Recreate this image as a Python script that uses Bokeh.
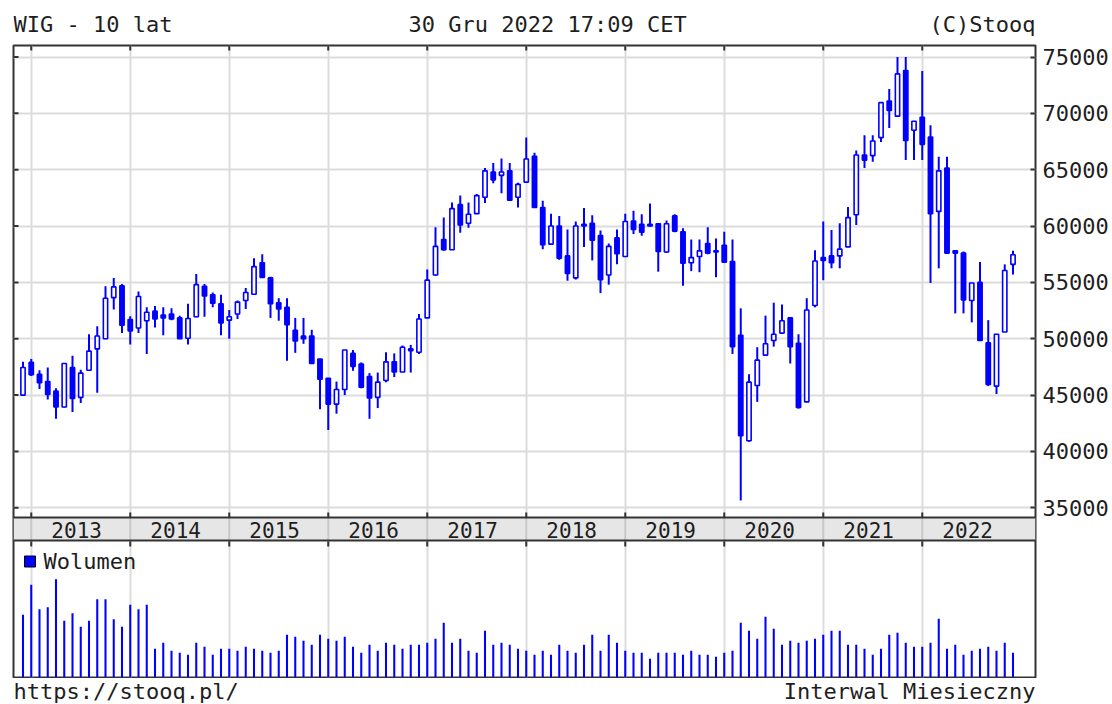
import math
from bokeh.plotting import figure
from bokeh.layouts import column
from bokeh.models import Range1d, LinearAxis, FixedTicker, Grid
from bokeh.core.properties import value
from bokeh.embed import file_html
from bokeh.resources import INLINE

# ---------------- data ----------------
months = ["2012-12"] + [f"{y}-{m:02d}" for y in range(2013, 2023) for m in range(1, 13)]
years = ["2013", "2014", "2015", "2016", "2017", "2018", "2019", "2020", "2021", "2022"]
price_ticks = [35000, 40000, 45000, 50000, 55000, 60000, 65000, 70000, 75000]

opens = [45000, 47900, 46850, 46200, 45350, 43950, 47450, 44800, 47200, 49100, 50000, 53650, 54700, 51700, 50950,
         51600, 52450, 52100, 52200, 51850, 50050, 51950, 54650, 53900, 53100, 51650, 52200, 53400, 53950, 56750,
         55400, 53200, 52800, 50750, 50250, 50250, 48200, 46500, 44200, 45500, 48700, 47750, 46650, 44800, 46300,
         47950, 47050, 49100, 48800, 51850, 55650, 58800, 57900, 61900, 60250, 61100, 62550, 64800, 64500, 64900,
         62550, 63900, 66200, 61650, 58400, 60000, 57350, 55400, 60000, 60250, 59150, 55650, 58950, 57300, 60450,
         60150, 60150, 60200, 57700, 60900, 59500, 56750, 57300, 58450, 57800, 58300, 56850, 50300, 40950, 45850,
         48550, 49850, 50500, 51850, 49600, 44400, 52950, 57200, 57350, 57350, 58150, 61000, 66300, 66250, 67850,
         71100, 69750, 73800, 68500, 69650, 67900, 61300, 65150, 57800, 57600, 53400, 55000, 49650, 45800, 50600,
         56600]
highs = [47950, 48200, 47200, 47450, 45600, 47800, 48500, 47250, 50400, 51100, 54650, 55400, 54850, 52000, 54200,
         52800, 52900, 52800, 52700, 52050, 53100, 55750, 54850, 54100, 53900, 52550, 53400, 54500, 57150, 57500,
         55500, 53600, 53600, 51850, 51850, 50800, 48200, 46500, 46200, 49000, 49000, 47900, 46950, 47000, 48800,
         48700, 49400, 49450, 52200, 56150, 59900, 60750, 62100, 62700, 62100, 62850, 65150, 65600, 66000, 65600,
         63850, 67850, 66500, 62250, 61100, 60900, 59700, 60400, 61600, 60950, 59600, 58450, 59700, 61100, 61350,
         61050, 62000, 60200, 60500, 61050, 59800, 58800, 58800, 59900, 58900, 59500, 58800, 52700, 46850, 49250,
         52050, 53200, 53050, 51850, 50400, 53600, 57850, 60400, 59650, 60250, 61700, 66700, 68050, 68050, 70950,
         72150, 75000, 75000, 69300, 73750, 68950, 66150, 66150, 57800, 57750, 54950, 56800, 51650, 50400, 56600,
         57800]
lows = [45000, 46700, 45550, 44600, 42900, 43900, 43500, 44300, 47200, 45200, 50000, 52600, 50500, 49500, 50500,
        48650, 51000, 50300, 51650, 50000, 49500, 51900, 51950, 52800, 50300, 50000, 51750, 52650, 53950, 55450,
        51850, 51600, 48050, 48750, 49550, 47800, 43750, 41900, 43350, 45000, 47150, 45600, 42900, 43850, 46150,
        46600, 47050, 47000, 48650, 51850, 55600, 57800, 57900, 59400, 59850, 61100, 62050, 63800, 62900, 62300,
        61650, 63850, 61650, 57950, 58400, 57000, 55150, 55250, 58150, 56950, 54050, 54800, 56600, 57300, 59300,
        59150, 59950, 55950, 57600, 59450, 54700, 56000, 55900, 57500, 55450, 56800, 48650, 35650, 40850, 44400,
        48550, 49300, 50500, 47800, 43800, 44400, 52800, 55200, 56250, 56250, 58150, 60100, 65150, 65700, 67450,
        68700, 69750, 65850, 65850, 65850, 54950, 56250, 57600, 52250, 52250, 51450, 49850, 45800, 45100, 50600,
        55700]
closes = [47450, 46800, 46100, 45050, 43950, 47800, 44700, 46950, 48900, 50250, 53600, 54600, 51200, 50700, 53750,
          52350, 51750, 51850, 51750, 50000, 51800, 54800, 53800, 53150, 51400, 51950, 53250, 54100, 56400, 55450,
          53100, 52650, 51250, 49800, 50000, 47800, 46400, 44200, 45500, 49000, 47550, 45700, 44750, 46150, 47950,
          47050, 49250, 48950, 51750, 55200, 58200, 57900, 61550, 60100, 61050, 62700, 64900, 64100, 64800, 62300,
          63700, 65950, 61650, 58350, 60000, 57150, 55800, 60000, 60150, 58750, 55250, 58200, 57550, 60400, 59700,
          59450, 60000, 57750, 60200, 59550, 56700, 57200, 57800, 57600, 57700, 56800, 49300, 41400, 46150, 48100,
          49550, 50400, 51600, 49300, 43900, 52550, 56900, 56950, 56750, 57950, 60750, 66300, 65850, 67550, 70950,
          70250, 73500, 67600, 69300, 67250, 61100, 64900, 57600, 57600, 53450, 54950, 49850, 45950, 50400, 56050,
          57450]
volumes = [188, 278, 205, 211, 295, 170, 193, 152, 170, 235, 235, 175, 152, 218, 205, 218, 86, 104, 80, 74,
           68, 104, 92, 68, 86, 86, 80, 92, 86, 80, 74, 80, 128, 122, 110, 98, 128, 116, 110, 122,
           92, 74, 98, 80, 104, 98, 86, 98, 98, 104, 116, 164, 104, 116, 80, 74, 140, 98, 104, 98,
           86, 80, 68, 80, 68, 98, 80, 74, 98, 128, 80, 128, 104, 80, 74, 74, 56, 74, 74, 74,
           68, 80, 68, 68, 62, 74, 80, 164, 140, 116, 182, 146, 98, 110, 104, 110, 116, 128, 140, 140,
           98, 98, 86, 68, 86, 128, 134, 104, 92, 92, 104, 176, 86, 98, 68, 80, 86, 92, 80, 104,
           74]

# ---------------- layout constants (reference pixels) ----------------
W, H = 1112, 704
HEAD_H = 40
FRAME_L, FRAME_R, FRAME_T, FRAME_B = 13, 1035, 45, 677
MAIN_B, BAND_B = 517, 541
X0, STEP = 22.5, 8.25
Y_HI_PX, Y_LO_PX = 56.5, 507.3
VOL_UNITS_PER_PX = 3.0

FONT = "DejaVu Sans Mono"
TXT = "#1e1e1e"
BLUE = "#0000ff"
DARK = "#333333"

main_h = FRAME_B - HEAD_H + 1
FOOT_H = H - HEAD_H - main_h


def blank_fig(h, y_top):
    # frames of stacked plots are aligned with the main frame, so map x in reference pixels
    f = figure(width=W, height=h, x_range=Range1d(FRAME_L, FRAME_R),
               y_range=Range1d(y_top + h, y_top),
               output_backend="svg", toolbar_location=None,
               x_axis_location=None, y_axis_location=None,
               min_border=0, min_border_left=0, min_border_right=0,
               min_border_top=0, min_border_bottom=0,
               outline_line_color=None, background_fill_color="white",
               border_fill_color="white")
    f.grid.visible = False
    return f


def texts(f, xs_, ys_, labels, align, size="22px"):
    f.text(x=xs_, y=ys_, text=labels, text_font=value(FONT), text_font_size=size,
           text_color=TXT, text_align=align, text_baseline="middle")


# ---------------- header ----------------
head = blank_fig(HEAD_H, 0)
texts(head, [13, 408], [24, 24], ["WIG - 10 lat", "30 Gru 2022 17:09 CET"], "left")
texts(head, [1035], [24], ["(C)Stooq"], "right")

# ---------------- main chart (candles + year band + volume) ----------------
top_pad = FRAME_T - HEAD_H
ppx = (price_ticks[-1] - price_ticks[0]) / (Y_LO_PX - Y_HI_PX)
x_range = Range1d((FRAME_L - X0) / STEP, (FRAME_R - X0) / STEP)
y_range = Range1d(price_ticks[0] - (FRAME_B - Y_LO_PX) * ppx,
                  price_ticks[-1] + (Y_HI_PX - FRAME_T) * ppx)

p = figure(width=W, height=main_h, x_range=x_range, y_range=y_range,
           output_backend="svg", toolbar_location=None,
           x_axis_location=None, y_axis_location=None,
           min_border_left=FRAME_L, min_border_top=top_pad,
           min_border_right=W - FRAME_R, min_border_bottom=main_h - top_pad - (FRAME_B - FRAME_T),
           background_fill_color="white", border_fill_color="white",
           outline_line_color=DARK, outline_line_width=2)
p.extra_x_ranges = {"px": Range1d(FRAME_L, FRAME_R)}
p.extra_y_ranges = {"vol": Range1d(0, (FRAME_B - FRAME_T) * VOL_UNITS_PER_PX),
                    "lay": Range1d(FRAME_B, FRAME_T)}
p.grid.visible = False

xs = list(range(len(opens)))
year_pos = [months.index(y + "-01") for y in years]

p.add_layout(Grid(dimension=0, ticker=FixedTicker(ticks=year_pos),
                  grid_line_color="#dcdcdc", grid_line_width=2))
p.add_layout(Grid(dimension=1, ticker=FixedTicker(ticks=price_ticks),
                  grid_line_color="#dcdcdc", grid_line_width=2))

ax = LinearAxis(ticker=FixedTicker(ticks=price_ticks), axis_line_color=None,
                major_tick_in=5, major_tick_out=0, major_tick_line_color=DARK,
                major_tick_line_width=2, minor_tick_line_color=None,
                major_label_standoff=7, major_label_text_font=FONT,
                major_label_text_font_size="22px", major_label_text_color=TXT)
p.add_layout(ax, "right")

# candles
body_top = [max(o, c) for o, c in zip(opens, closes)]
body_bot = [min(o, c) for o, c in zip(opens, closes)]
fills = ["white" if c >= o else BLUE for o, c in zip(opens, closes)]
p.segment(x0=xs, x1=xs, y0=lows, y1=highs, line_color=BLUE, line_width=2)
p.vbar(x=xs, top=body_top, bottom=body_bot, width=0.52, fill_color=fills,
       line_color=BLUE, line_width=1.6)

# volume
p.vbar(x=xs, top=volumes, bottom=0, width=0.25, fill_color=BLUE, line_color=None,
       y_range_name="vol")

# border tick marks
n_y = len(year_pos)
for yy in (FRAME_T, MAIN_B, BAND_B):
    p.scatter(x=year_pos, y=[yy] * n_y, y_range_name="lay", marker="dash",
              angle=math.pi / 2, size=10, line_color=DARK, line_width=2)
p.scatter(x=[FRAME_L] * len(price_ticks), y=price_ticks, x_range_name="px",
          marker="dash", size=10, line_color=DARK, line_width=2)

# year band
p.quad(left=[FRAME_L], right=[FRAME_R], top=[MAIN_B], bottom=[BAND_B - 1],
       x_range_name="px", y_range_name="lay", fill_color="#e6e6e6", line_color=None)
p.segment(x0=year_pos, x1=year_pos, y0=[MAIN_B] * n_y, y1=[BAND_B] * n_y,
          y_range_name="lay", line_color="#c8c8c8", line_width=2)
p.segment(x0=[FRAME_L, FRAME_L], x1=[FRAME_R, FRAME_R], y0=[MAIN_B, BAND_B - 1],
          y1=[MAIN_B, BAND_B - 1], x_range_name="px", y_range_name="lay",
          line_color=DARK, line_width=2)
p.text(x=[v + 5.5 for v in year_pos], y=[(MAIN_B + BAND_B) / 2] * n_y, text=years,
       y_range_name="lay", text_font=value(FONT), text_font_size="21px",
       text_align="center", text_baseline="middle", text_color=TXT)

# volume legend
p.scatter(x=[29.5], y=[561], x_range_name="px", y_range_name="lay", marker="square",
          size=11, fill_color=BLUE, line_color="#000000", line_width=1)
p.text(x=[43], y=[561], x_range_name="px", y_range_name="lay", text=["Wolumen"],
       text_font=value(FONT), text_font_size="22px", text_baseline="middle", text_color=TXT)

# ---------------- footer ----------------
foot_top = HEAD_H + main_h
foot = blank_fig(FOOT_H, foot_top)
texts(foot, [13], [691], ["https://stooq.pl/"], "left", "22px")
texts(foot, [1035], [691], ["Interwal Miesieczny"], "right", "22px")

layout = column(head, p, foot, spacing=0)
open("out.html", "w").write(file_html(layout, INLINE))
